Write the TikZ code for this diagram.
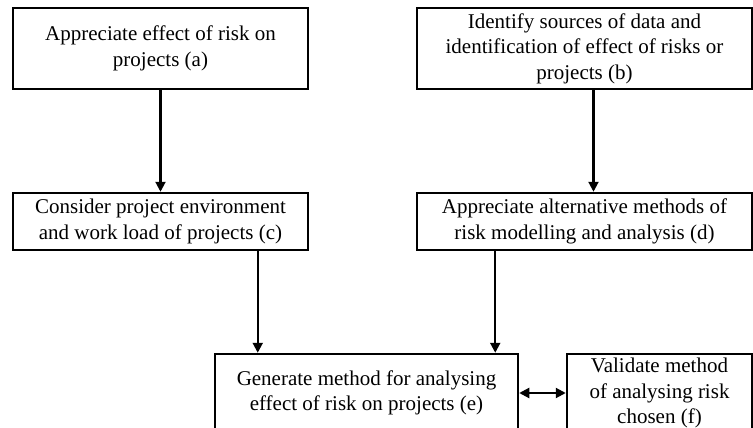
\documentclass[tikz,border=0pt]{standalone}
\usepackage{fontspec}
\setmainfont{Liberation Serif}
\usepackage{tikz}
\usetikzlibrary{arrows.meta,calc}
\tikzset{
  nd_box/.style={
    rectangle, draw=black, line width=2.5pt,
    align=center, inner sep=2pt,
    font=\fontsize{21}{25.5}\selectfont},
  arr/.style={-{Triangle[length=10pt,width=10pt]},line width=2.1pt},
  arr2/.style={{Triangle[length=10pt,width=10pt]}-{Triangle[length=10pt,width=10pt]},line width=2.1pt},
}

\begin{document}
\begin{tikzpicture}[x=1pt,y=1pt]

\useasboundingbox (0,0) rectangle (753,-428);

\def\cL{160.5}\def\cR{584.5}

%% top row
\node[nd_box,minimum width=295,minimum height=81] at (\cL,-48.5) (a)
  {Appreciate effect of risk on\\projects (a)};
\node[nd_box,minimum width=335,minimum height=81] at (\cR,-48.5) (b)
  {Identify sources of data and\\identification of effect of risks or\\projects (b)};

%% middle row
\node[nd_box,minimum width=295,minimum height=57] at (\cL,-221.5) (c)
  {Consider project environment\\and work load of projects (c)};
\node[nd_box,minimum width=335,minimum height=57] at (\cR,-221.5) (d)
  {Appreciate alternative methods of\\risk modelling and analysis (d)};

%% bottom row
\node[nd_box,minimum width=303,minimum height=78] at (366.5,-393) (e)
  {Generate method for analysing\\effect of risk on projects (e)};
\node[nd_box,minimum width=185,minimum height=78] at (659.5,-393) (f)
  {Validate method\\of analysing risk\\chosen (f)};

\coordinate (ce) at ([xshift=44]e.north west);
\coordinate (de) at ([xshift=-24]e.north east);

\draw[arr] (a)--(c);
\draw[arr] ([xshift=9]b.south)--([xshift=9]d.north);
\draw[arr] (c.south -| ce)--(ce);
\draw[arr] (d.south -| de)--(de);
\draw[arr2] (e)--(f);

\end{tikzpicture}
\end{document}
